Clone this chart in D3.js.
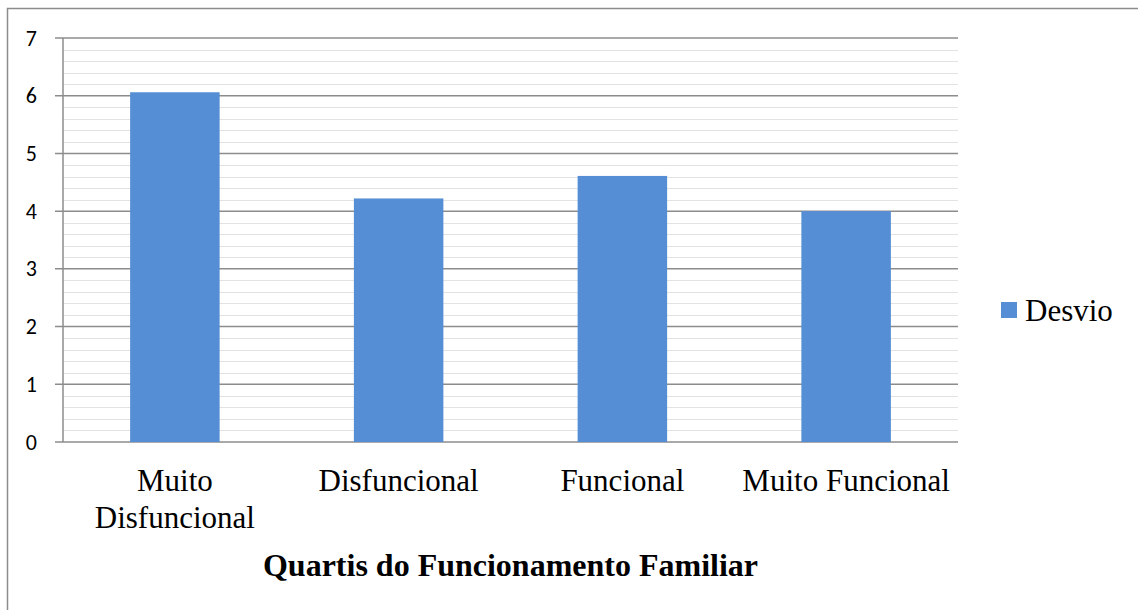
<!DOCTYPE html>
<html>
<head>
<meta charset="utf-8">
<script src="https://cdnjs.cloudflare.com/ajax/libs/d3/7.8.5/d3.min.js"></script>
<style>
  body { margin: 0; background: #fff; }
  svg { display: block; }
</style>
</head>
<body>
<script>
// data
var categories = [['Muito', 'Disfuncional'], ['Disfuncional'], ['Funcional'], ['Muito Funcional']];
var desvio = [6.06, 4.22, 4.61, 4.0];
var yTicks = [0, 1, 2, 3, 4, 5, 6, 7];
var seriesName = 'Desvio';
var axisTitle = 'Quartis do Funcionamento Familiar';

var width = 1138, height = 610;
var margin = { left: 63, right: 180, top: 38, bottom: 168 };

var svg = d3.select('body').append('svg').attr('width', width).attr('height', height);

// outer chart border (runs off the right and bottom edge)
svg.append('rect')
    .attr('x', 7.5).attr('y', 8.5)
    .attr('width', width + 20).attr('height', height + 20)
    .attr('fill', 'none').attr('stroke', '#8c8c8c').attr('stroke-width', 1.5);

var x = d3.scaleBand()
    .domain(d3.range(categories.length))
    .range([margin.left, width - margin.right])
    .paddingInner(0.6)
    .paddingOuter(0.3);

var y = d3.scaleLinear().domain([0, 7]).range([height - margin.bottom, margin.top]);

var g = svg.append('g');

// minor gridlines every 0.2
var minor = d3.range(0, 7.001, 0.2).filter(function (v) { return Math.abs(v - Math.round(v)) > 0.01; });
g.selectAll('.minor').data(minor).enter().append('line')
    .attr('x1', margin.left).attr('x2', width - margin.right)
    .attr('y1', function (d) { return Math.round(y(d)) + 0.5; })
    .attr('y2', function (d) { return Math.round(y(d)) + 0.5; })
    .attr('stroke', '#e2e2e2').attr('stroke-width', 1);

// major gridlines
g.selectAll('.major').data(yTicks).enter().append('line')
    .attr('x1', margin.left - 8).attr('x2', width - margin.right)
    .attr('y1', function (d) { return y(d); })
    .attr('y2', function (d) { return y(d); })
    .attr('stroke', '#8c8c8c').attr('stroke-width', 1.5);

// y axis line
g.append('line')
    .attr('x1', margin.left).attr('x2', margin.left)
    .attr('y1', y(0)).attr('y2', y(7))
    .attr('stroke', '#8c8c8c').attr('stroke-width', 1.5);

// bars
g.selectAll('.bar').data(desvio).enter().append('rect')
    .attr('x', function (d, i) { return x(i); })
    .attr('y', function (d) { return y(d); })
    .attr('width', x.bandwidth())
    .attr('height', function (d) { return y(0) - y(d); })
    .attr('fill', '#558ed5');

// y tick labels
g.selectAll('.ylab').data(yTicks).enter().append('text')
    .attr('x', 37)
    .attr('y', function (d) { return y(d) + 7.5; })
    .attr('text-anchor', 'end')
    .attr('font-family', 'Carlito, "Open Sans", "Noto Sans", sans-serif')
    .attr('font-size', 22)
    .attr('fill', '#000')
    .text(function (d) { return d; });

// category labels
var cat = g.selectAll('.xlab').data(categories).enter().append('text')
    .attr('text-anchor', 'middle')
    .attr('font-family', '"Liberation Serif", "Times New Roman", serif')
    .attr('font-size', 31)
    .attr('fill', '#000');
cat.selectAll('tspan').data(function (d, i) { return d.map(function (s) { return { s: s, i: i }; }); })
    .enter().append('tspan')
    .attr('x', function (d) { return x(d.i) + x.bandwidth() / 2; })
    .attr('y', function (d, j) { return 491 + j * 37; })
    .text(function (d) { return d.s; });

// axis title
svg.append('text')
    .attr('x', (margin.left + width - margin.right) / 2)
    .attr('y', 576)
    .attr('text-anchor', 'middle')
    .attr('font-family', '"Liberation Serif", "Times New Roman", serif')
    .attr('font-weight', 'bold')
    .attr('font-size', 32)
    .text(axisTitle);

// legend
var leg = svg.append('g');
leg.append('rect').attr('x', 1001).attr('y', 302).attr('width', 16).attr('height', 16).attr('fill', '#558ed5');
leg.append('text')
    .attr('x', 1025).attr('y', 321)
    .attr('font-family', '"Liberation Serif", "Times New Roman", serif')
    .attr('font-size', 31)
    .text(seriesName);
</script>
</body>
</html>
